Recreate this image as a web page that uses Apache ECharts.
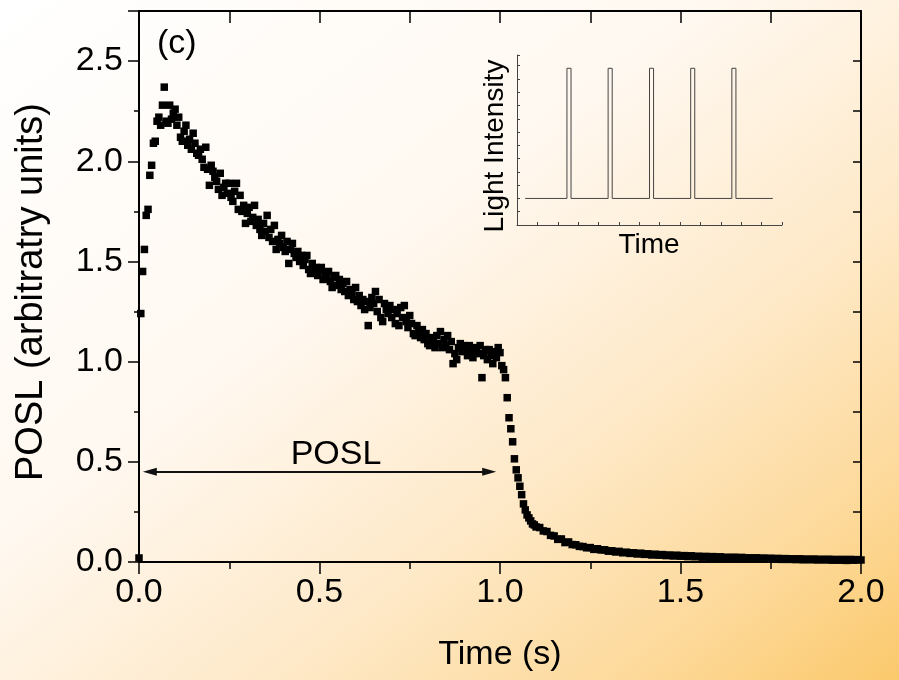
<!DOCTYPE html>
<html>
<head>
<meta charset="utf-8">
<script src="https://cdn.jsdelivr.net/npm/echarts@6/dist/echarts.min.js"></script>
<style>
html,body{margin:0;padding:0;}
body{width:899px;height:680px;background:linear-gradient(to bottom right,#ffffff 0%,#fff8f0 40%,#fee9c8 65%,#fdd99a 85%,#fbc96c 100%);}
#chart{width:899px;height:680px;}
</style>
</head>
<body>
<div id="chart"></div>
<script>
// POSL signal, time (s) vs signal (arbitrary units)
const poslRise = [
[0.000,0.02],[0.005,1.24],[0.010,1.45],[0.015,1.56],[0.020,1.73],[0.025,1.76],[0.030,1.93],[0.035,1.98],
[0.040,2.09],[0.045,2.10],[0.050,2.20],[0.055,2.22],[0.060,2.18],[0.065,2.28],[0.070,2.37],[0.075,2.20],
[0.080,2.19],[0.085,2.28],[0.090,2.21],[0.095,2.24],[0.100,2.26],[0.105,2.18],[0.110,2.22],[0.115,2.12],
[0.120,2.10],[0.125,2.15],[0.130,2.18],[0.135,2.08],[0.140,2.11],[0.145,2.06],[0.150,2.14],[0.155,2.09],
[0.160,2.04],[0.165,2.03],[0.170,2.06],[0.175,2.01],[0.180,1.97],[0.185,2.07],[0.190,1.96],[0.195,1.88],
[0.200,1.98],[0.205,1.95],[0.210,1.92],[0.215,1.90],[0.220,1.86],[0.225,1.94],[0.230,1.83],[0.235,1.87],
[0.240,1.89],[0.245,1.84],[0.250,1.89],[0.255,1.82],[0.260,1.80],[0.265,1.85],[0.270,1.89],[0.275,1.76],
[0.280,1.83],[0.285,1.75],[0.290,1.78],[0.295,1.69],[0.300,1.74],[0.305,1.77],[0.310,1.70],[0.315,1.72],
[0.320,1.78],[0.325,1.68],[0.330,1.71],[0.335,1.66],[0.340,1.63],[0.345,1.69],[0.350,1.65],[0.355,1.73],
[0.360,1.62],[0.365,1.66],[0.370,1.60],[0.375,1.68],[0.380,1.56],[0.385,1.61],[0.390,1.59],[0.395,1.63],
[0.400,1.57],[0.405,1.55],[0.410,1.60],[0.415,1.49],[0.420,1.56],[0.425,1.59],[0.430,1.54],[0.435,1.52],
[0.440,1.55],[0.445,1.50],[0.450,1.53],[0.455,1.48],[0.460,1.51],[0.465,1.53],[0.470,1.46],[0.475,1.44],
[0.480,1.49],[0.485,1.45],[0.490,1.47],[0.495,1.43],[0.500,1.46]
];
const poslPlateau = [
[0.505,1.47],[0.510,1.41],[0.515,1.44],[0.520,1.42],[0.525,1.45],[0.530,1.40],[0.535,1.37],[0.540,1.42],
[0.545,1.43],[0.550,1.38],[0.555,1.41],[0.560,1.36],[0.565,1.39],[0.570,1.35],[0.575,1.40],[0.580,1.33],
[0.585,1.36],[0.590,1.34],[0.595,1.31],[0.600,1.37],[0.605,1.30],[0.610,1.33],[0.615,1.28],[0.620,1.31],
[0.625,1.26],[0.630,1.30],[0.635,1.18],[0.640,1.27],[0.645,1.32],[0.650,1.29],[0.655,1.35],[0.660,1.25],
[0.665,1.31],[0.670,1.22],[0.675,1.20],[0.680,1.29],[0.685,1.26],[0.690,1.24],[0.695,1.28],[0.700,1.22],
[0.705,1.26],[0.710,1.19],[0.715,1.24],[0.720,1.18],[0.725,1.27],[0.730,1.22],[0.735,1.28],[0.740,1.20],
[0.745,1.17],[0.750,1.23],[0.755,1.19],[0.760,1.14],[0.765,1.13],[0.770,1.18],[0.775,1.15],[0.780,1.12],
[0.785,1.16],[0.790,1.11],[0.795,1.14],[0.800,1.09],[0.805,1.08],[0.810,1.12],[0.815,1.10],[0.820,1.07],
[0.825,1.13],[0.830,1.09],[0.835,1.15],[0.840,1.07],[0.845,1.11],[0.850,1.08],[0.855,1.13],[0.860,1.06],
[0.865,1.10],[0.870,0.99],[0.875,1.04],[0.880,1.01],[0.885,1.07],[0.890,1.09],[0.895,1.05],[0.900,1.08],
[0.905,1.06],[0.910,1.03],[0.915,1.08],[0.920,1.05],[0.925,1.02],[0.930,1.06],[0.935,1.07],[0.940,1.04],
[0.945,1.08],[0.950,0.92],[0.955,1.03],[0.960,1.06],[0.965,1.01],[0.970,1.06],[0.975,1.03],[0.980,0.99],
[0.985,1.05],[0.990,1.02],[0.995,1.07],[1.000,1.045]
];
const poslDrop = [
[1.005,0.98],[1.010,0.96],[1.015,0.92],[1.020,0.82],[1.025,0.72],[1.030,0.665],[1.035,0.60],[1.040,0.515],
[1.045,0.46],[1.050,0.42],[1.055,0.378],[1.060,0.336],[1.065,0.29],[1.070,0.26],[1.075,0.235],[1.080,0.22],
[1.085,0.205],[1.090,0.19],[1.095,0.185],[1.100,0.175]
];
const poslTail = [
[1.11,0.172],[1.12,0.155],[1.13,0.152],[1.14,0.133],[1.15,0.130],[1.16,0.113],[1.17,0.115],[1.18,0.097],
[1.19,0.100],[1.20,0.087],[1.21,0.086],[1.22,0.078],[1.23,0.077],[1.24,0.071],[1.25,0.072],[1.26,0.063],
[1.27,0.066],[1.28,0.060],[1.29,0.061],[1.30,0.054],[1.31,0.056],[1.32,0.050],[1.33,0.053],[1.34,0.046],
[1.35,0.049],[1.36,0.043],[1.37,0.046],[1.38,0.040],[1.39,0.044],[1.40,0.038],[1.41,0.041],[1.42,0.035],
[1.43,0.039],[1.44,0.034],[1.45,0.037],[1.46,0.032],[1.47,0.035],[1.48,0.030],[1.49,0.034],[1.50,0.029],
[1.51,0.032],[1.52,0.027],[1.53,0.031],[1.54,0.026],[1.55,0.029],[1.56,0.024],[1.57,0.028],[1.58,0.023],
[1.59,0.027],[1.60,0.022],[1.61,0.026],[1.62,0.021],[1.63,0.024],[1.64,0.020],[1.65,0.024],[1.66,0.019],
[1.67,0.023],[1.68,0.018],[1.69,0.021],[1.70,0.017],[1.71,0.021],[1.72,0.016],[1.73,0.020],[1.74,0.015],
[1.75,0.019],[1.76,0.014],[1.77,0.018],[1.78,0.013],[1.79,0.017],[1.80,0.013],[1.81,0.016],[1.82,0.012],
[1.83,0.016],[1.84,0.011],[1.85,0.015],[1.86,0.011],[1.87,0.015],[1.88,0.010],[1.89,0.014],[1.90,0.010],
[1.91,0.014],[1.92,0.009],[1.93,0.013],[1.94,0.009],[1.95,0.013],[1.96,0.008],[1.97,0.013],[1.98,0.009],
[1.99,0.012],[2.00,0.010]
];
// POSL illumination window arrow (s, level)
const arrowStart = [0.03, 0.45];
const arrowEnd = [0.97, 0.45];
// Inset: pulsed light intensity (arbitrary time / intensity units)
const insetPulse = [
[0.4,2],[2.45,2],[2.45,11.8],[2.65,11.8],[2.65,2],
[4.47,2],[4.47,11.8],[4.67,11.8],[4.67,2],
[6.5,2],[6.5,11.8],[6.7,11.8],[6.7,2],
[8.52,2],[8.52,11.8],[8.72,11.8],[8.72,2],
[10.54,2],[10.54,11.8],[10.74,11.8],[10.74,2],[12.55,2]
];
const xTitle = 'Time (s)';
const yTitle = 'POSL (arbitratry units)';
const insetX = 'Time';
const insetY = 'Light Intensity';

const FONT = '"Liberation Sans", Arial, sans-serif';
const chart = echarts.init(document.getElementById('chart'), null, {renderer:'canvas'});
const fmt = v => (Math.abs(v*2 - Math.round(v*2)) < 1e-6) ? v.toFixed(1) : '';
const black = '#000';
chart.setOption({
  animation:false,
  backgroundColor:'transparent',
  textStyle:{fontFamily:FONT},
  grid:[
    {left:139, top:11, width:722, height:551},
    {left:517, top:55, width:265, height:170}
  ],
  xAxis:[
    {gridIndex:0, type:'value', position:'bottom', min:0, max:2, interval:0.5,
     axisLine:{show:true, lineStyle:{color:black,width:2}},
     axisTick:{show:true, inside:false, length:12, lineStyle:{color:black,width:1.5}},
     minorTick:{show:true, splitNumber:2, length:7, lineStyle:{color:black,width:1.5}},
     axisLabel:{show:true, margin:14, fontSize:34, color:black, fontFamily:FONT, formatter:fmt},
     splitLine:{show:false}, minorSplitLine:{show:false}},
    {gridIndex:0, type:'value', position:'top', min:0, max:2, interval:0.25,
     axisLine:{show:true, onZero:false, lineStyle:{color:black,width:2}},
     axisTick:{show:true, inside:true, length:12, lineStyle:{color:black,width:1.5}},
     axisLabel:{show:false}, splitLine:{show:false}},
    {gridIndex:1, type:'value', position:'bottom', min:0, max:13, interval:1,
     axisLine:{show:true, lineStyle:{color:'#444',width:1}},
     axisTick:{show:true, inside:true, length:3, lineStyle:{color:'#444',width:1}},
     axisLabel:{show:false}, splitLine:{show:false}}
  ],
  yAxis:[
    {gridIndex:0, type:'value', position:'left', min:0, max:2.75, interval:0.5,
     axisLine:{show:true, onZero:false, lineStyle:{color:black,width:2}},
     axisTick:{show:true, inside:false, length:11, lineStyle:{color:black,width:1.5}},
     axisLabel:{show:true, margin:16, fontSize:34, color:black, fontFamily:FONT, formatter:fmt},
     splitLine:{show:false}},
    {gridIndex:0, type:'value', position:'left', min:0, max:2.75, interval:0.25,
     axisLine:{show:false},
     axisTick:{show:true, inside:false, length:5, lineStyle:{color:black,width:1.5}},
     axisLabel:{show:false}, splitLine:{show:false}},
    {gridIndex:0, type:'value', position:'right', min:0, max:2.75, interval:0.25,
     axisLine:{show:true, onZero:false, lineStyle:{color:black,width:2}},
     axisTick:{show:true, inside:true, length:8, lineStyle:{color:black,width:1.5}},
     axisLabel:{show:false}, splitLine:{show:false}},
    {gridIndex:1, type:'value', position:'left', min:0, max:12.8, interval:1,
     axisLine:{show:true, onZero:false, lineStyle:{color:'#444',width:1}},
     axisTick:{show:true, inside:true, length:3, lineStyle:{color:'#444',width:1}},
     axisLabel:{show:false}, splitLine:{show:false}}
  ],
  series:[
    {type:'scatter', xAxisIndex:0, yAxisIndex:0, symbol:'rect', symbolSize:7.5,
     itemStyle:{color:black, opacity:1}, silent:true,
     data:[].concat(poslRise, poslPlateau, poslDrop, poslTail),
     markLine:{silent:true, symbol:['triangle','triangle'], symbolSize:[8,14],
       lineStyle:{color:'#111', width:2, type:'solid'}, label:{show:false},
       data:[[{coord:arrowStart},{coord:arrowEnd}]]}},
    {type:'line', xAxisIndex:2, yAxisIndex:3, data:insetPulse, showSymbol:false, symbol:'none',
     lineStyle:{color:'#444', width:1}, silent:true}
  ],
  graphic:[
    {type:'text', left:157, top:27, style:{text:'(c)', font:'34px '+FONT, fill:black}},
    {type:'text', x:336, y:455, style:{text:'POSL', font:'34px '+FONT, fill:black, textAlign:'center', textVerticalAlign:'middle'}},
    {type:'text', x:500, y:655, style:{text:xTitle, font:'34px '+FONT, fill:black, textAlign:'center', textVerticalAlign:'middle'}},
    {type:'text', x:31.5, y:292, rotation:Math.PI/2, style:{text:yTitle, font:'38px '+FONT, fill:black, textAlign:'center', textVerticalAlign:'middle'}},
    {type:'text', x:495, y:146, rotation:Math.PI/2, style:{text:insetY, font:'28px '+FONT, fill:black, textAlign:'center', textVerticalAlign:'middle'}},
    {type:'text', x:649, y:245, style:{text:insetX, font:'28px '+FONT, fill:black, textAlign:'center', textVerticalAlign:'middle'}}
  ]
});
</script>
</body>
</html>
